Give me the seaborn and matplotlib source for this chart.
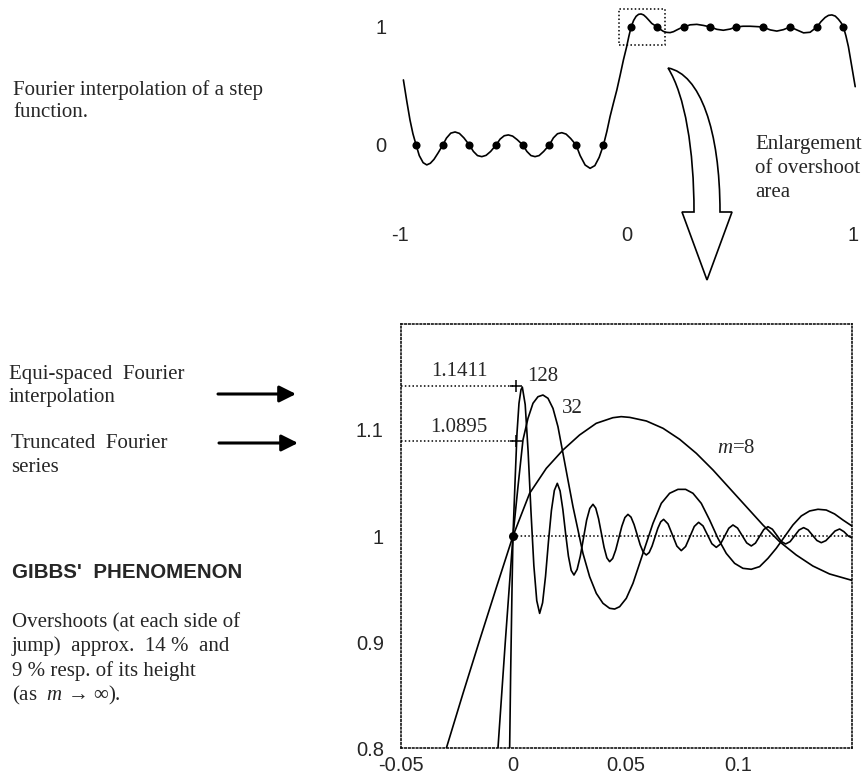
import matplotlib
matplotlib.use("Agg")
import matplotlib.pyplot as plt
import seaborn as sns
from matplotlib.path import Path
from matplotlib.patches import PathPatch, Rectangle, FancyArrowPatch
from matplotlib.transforms import Affine2D

W, H = 865, 784

# ---------------- top panel data ----------------
top_x = [-0.985, -0.970, -0.956, -0.943, -0.929, -0.915, -0.898, -0.882, -0.866, -0.850,
         -0.831, -0.811, -0.795, -0.776, -0.757, -0.738, -0.718, -0.694, -0.676, -0.658,
         -0.639, -0.620, -0.600, -0.576, -0.558, -0.540, -0.522, -0.503, -0.483, -0.458,
         -0.440, -0.422, -0.404, -0.386, -0.366, -0.341, -0.323, -0.305, -0.286, -0.267,
         -0.247, -0.223, -0.205, -0.183, -0.161, -0.140, -0.121, -0.102, -0.087, -0.073,
         -0.058, -0.043, -0.028, -0.014, 0.000, 0.010, 0.020, 0.031, 0.042, 0.053,
         0.064, 0.075, 0.086, 0.098, 0.111, 0.123, 0.136, 0.150, 0.163, 0.177,
         0.192, 0.207, 0.222, 0.238, 0.255, 0.280, 0.310, 0.339, 0.369, 0.398,
         0.427, 0.457, 0.483, 0.514, 0.545, 0.574, 0.601, 0.634, 0.663, 0.692,
         0.722, 0.751, 0.781, 0.810, 0.840, 0.858, 0.876, 0.891, 0.906, 0.921,
         0.935, 0.947, 0.957, 0.968, 0.979, 0.994, 1.009]
top_y = [0.551, 0.370, 0.212, 0.095, 0.000, -0.090, -0.150, -0.169, -0.155, -0.122,
         -0.065, 0.000, 0.058, 0.100, 0.110, 0.098, 0.060, 0.000, -0.055, -0.090,
         -0.099, -0.088, -0.055, 0.000, 0.050, 0.078, 0.085, 0.075, 0.045, 0.000,
         -0.055, -0.090, -0.099, -0.090, -0.055, 0.000, 0.060, 0.095, 0.104, 0.092,
         0.055, 0.000, -0.090, -0.170, -0.198, -0.175, -0.105, 0.000, 0.115, 0.240,
         0.355, 0.466, 0.595, 0.720, 0.830, 0.920, 1.000, 1.055, 1.090, 1.107,
         1.110, 1.102, 1.083, 1.058, 1.030, 1.015, 1.000, 0.978, 0.962, 0.954,
         0.952, 0.960, 0.975, 0.990, 1.000, 1.018, 1.022, 1.013, 1.000, 0.980,
         0.972, 0.982, 1.000, 1.006, 1.006, 1.003, 1.000, 0.975, 0.965, 0.977,
         1.000, 0.975, 0.950, 0.955, 1.000, 1.045, 1.080, 1.098, 1.102, 1.092,
         1.065, 1.035, 1.000, 0.925, 0.833, 0.664, 0.494]
nodes_x = [-0.929, -0.811, -0.694, -0.576, -0.458, -0.341, -0.223, -0.102,
           0.020, 0.136, 0.255, 0.369, 0.483, 0.601, 0.722, 0.840, 0.957]
nodes_y = [0, 0, 0, 0, 0, 0, 0, 0, 1, 1, 1, 1, 1, 1, 1, 1, 1]
top_xticks = [-1, 0, 1]
top_xticklabels = ["-1", "0", "1"]
top_yticks = [0, 1]
top_yticklabels = ["0", "1"]

# ---------------- bottom panel data ----------------
m8_x = [-0.0296, -0.0222, -0.0148, -0.0074, 0.0, 0.0074, 0.0148, 0.0222, 0.0296, 0.0370,
        0.0444, 0.0481, 0.0519, 0.0593, 0.0667, 0.0741, 0.0815, 0.0889, 0.0963, 0.1037,
        0.1111, 0.1185, 0.1259, 0.1333, 0.1407, 0.1511]
m8_y = [0.800, 0.8516, 0.9019, 0.9513, 1.000, 1.0403, 1.0638, 1.0811, 1.0953, 1.1063,
        1.1116, 1.1126, 1.1119, 1.1085, 1.1016, 1.0912, 1.0780, 1.0623, 1.0450, 1.0277,
        1.0104, 0.9947, 0.9821, 0.9717, 0.9642, 0.9579]

m32_x = [-0.00667, -0.00341, 0.0, 0.00222, 0.00444, 0.00667, 0.00889, 0.01111, 0.01333, 0.01556,
         0.01778, 0.02, 0.02222, 0.02444, 0.02667, 0.02889, 0.03111, 0.03407, 0.03704, 0.04,
         0.04296, 0.04519, 0.04741, 0.05037, 0.05333, 0.0563, 0.05926, 0.06222, 0.06593, 0.06963,
         0.07333, 0.07674, 0.08, 0.0837, 0.08741, 0.09111, 0.09481, 0.09852, 0.10222, 0.10593,
         0.10963, 0.11333, 0.11704, 0.12074, 0.12444, 0.12815, 0.13185, 0.13556, 0.13926, 0.14296,
         0.14667, 0.15111]
m32_y = [0.800, 0.9003, 1.0, 1.0465, 1.0906, 1.1110, 1.1252, 1.1314, 1.1330, 1.1299,
         1.1204, 1.1031, 1.0780, 1.0528, 1.0277, 1.0057, 0.9836, 0.9616, 0.9459, 0.9365,
         0.9318, 0.9311, 0.9333, 0.9412, 0.9553, 0.9742, 0.9931, 1.0119, 1.0308, 1.0403,
         1.0440, 1.0440, 1.0403, 1.0308, 1.0151, 0.9978, 0.9836, 0.9742, 0.9695, 0.9686,
         0.9711, 0.9789, 0.9884, 0.9994, 1.0104, 1.0189, 1.0236, 1.0252, 1.0245, 1.0208,
         1.0151, 1.0088]

m128_x = [-0.00148, -0.00104, -0.00044, 0.0, 0.00089, 0.00178, 0.00267, 0.00356, 0.00415,
          0.00543, 0.00672, 0.00800, 0.00928, 0.01057, 0.01185,
          0.01316, 0.01447, 0.01578, 0.01708, 0.01839, 0.01970,
          0.02094, 0.02217, 0.02341, 0.02464, 0.02588, 0.02711,
          0.02852, 0.02993, 0.03134, 0.03274, 0.03415, 0.03556,
          0.03679, 0.03803, 0.03926, 0.04049, 0.04173, 0.04296,
          0.04432, 0.04568, 0.04704, 0.04839, 0.04975, 0.05111,
          0.05247, 0.05383, 0.05519, 0.05654, 0.05790, 0.05926,
          0.06054, 0.06183, 0.06311, 0.06439, 0.06568, 0.06696,
          0.06892, 0.07089, 0.07285, 0.07481,
          0.07674, 0.07867, 0.08059, 0.08252,
          0.08448, 0.08645, 0.08841, 0.09037,
          0.09222, 0.09408, 0.09593, 0.09778,
          0.09982, 0.10186, 0.10389, 0.10593,
          0.10778, 0.10963, 0.11148, 0.11333,
          0.11530, 0.11726, 0.11923, 0.12119,
          0.12319, 0.12519, 0.12719, 0.12919,
          0.13115, 0.13312, 0.13508, 0.13704,
          0.13908, 0.14112, 0.14315, 0.14519,
          0.14711, 0.14904, 0.15111]
m128_y = [0.800, 0.870, 0.949, 1.000, 1.0497, 1.0969, 1.1252, 1.1380, 1.1405,
          1.1240, 1.0800, 1.0230, 0.9720, 0.9390, 0.9270,
          0.9370, 0.9620, 0.9950, 1.0240, 1.0430, 1.0497,
          1.0425, 1.0250, 1.0020, 0.9810, 0.9675, 0.9632,
          0.9685, 0.9810, 0.9980, 1.0150, 1.0260, 1.0299,
          1.0263, 1.0164, 1.0029, 0.9893, 0.9794, 0.9758,
          0.9788, 0.9869, 0.9981, 1.0092, 1.0174, 1.0204,
          1.0178, 1.0108, 1.0013, 0.9917, 0.9847, 0.9821,
          0.9844, 0.9905, 0.9989, 1.0073, 1.0134, 1.0157,
          1.0114, 1.0010, 0.9905, 0.9862,
          0.9901, 0.9995, 1.0090, 1.0129,
          1.0095, 1.0011, 0.9927, 0.9893,
          0.9924, 0.9998, 1.0073, 1.0104,
          1.0075, 1.0005, 0.9935, 0.9906,
          0.9933, 0.9997, 1.0061, 1.0088,
          1.0064, 1.0007, 0.9949, 0.9925,
          0.9947, 1.0002, 1.0057, 1.0079,
          1.0058, 1.0008, 0.9958, 0.9937,
          0.9956, 1.0001, 1.0047, 1.0066,
          1.0041, 1.0000, 0.9978]

overshoot_levels = [1.1411, 1.0895]
overshoot_labels = ["1.1411", "1.0895"]
overshoot_x = [0.0012, 0.0012]
node_point_x = [0.0]
node_point_y = [1.0]
bot_xticks = [-0.05, 0.0, 0.05, 0.1]
bot_xticklabels = ["-0.05", "0", "0.05", "0.1"]
bot_yticks = [0.8, 0.9, 1.0, 1.1]
bot_yticklabels = ["0.8", "0.9", "1", "1.1"]

# ---------------- style ----------------
sns.set_style("white")
plt.rcParams['font.family'] = ['Liberation Sans', 'DejaVu Sans']
plt.rcParams['mathtext.fontset'] = 'custom'
plt.rcParams['mathtext.rm'] = 'Liberation Serif'
plt.rcParams['mathtext.it'] = 'Liberation Serif:italic'
SERIF = ['Liberation Serif', 'DejaVu Serif']
FS_SERIF = 15
FS_TICK = 14.5
LW = 1.2
DOT = (0, (1, 1.5))

fig = plt.figure(figsize=(W / 100, H / 100), dpi=100)
px = Affine2D().scale(1 / W, -1 / H).translate(0, 1) + fig.transFigure

# ---------------- top panel ----------------
ax1 = fig.add_axes([388 / W, 1 - 180 / H, 474 / W, 177 / H])
ax1.set_xlim(-1.053, 1.039)
ax1.set_ylim(-0.297, 1.203)
sns.lineplot(x=top_x, y=top_y, ax=ax1, color='black', lw=LW, sort=False, estimator=None)
sns.scatterplot(x=nodes_x, y=nodes_y, ax=ax1, color='black', s=34, linewidth=0, zorder=3)
ax1.add_patch(Rectangle((-0.033, 0.847), 0.203, 0.306, fill=False, ec='black',
                        lw=1.1, ls=DOT))
sns.despine(ax=ax1, left=True, bottom=True)
ax1.set_xticks(top_xticks)
ax1.set_xticklabels(top_xticklabels)
ax1.set_yticks(top_yticks)
ax1.set_yticklabels(top_yticklabels)
ax1.tick_params(axis='x', length=0, pad=33, labelsize=FS_TICK)
ax1.tick_params(axis='y', length=0, pad=1, labelsize=FS_TICK)
ax1.set_xlabel("")
ax1.set_ylabel("")

# ---------------- bottom panel ----------------
ax2 = fig.add_axes([400.5 / W, 1 - 748 / H, 451.5 / W, 424 / H])
ax2.set_xlim(-0.05, 0.1507)
ax2.set_ylim(0.8, 1.2)
for s in ax2.spines.values():
    s.set_linestyle(DOT)
    s.set_linewidth(1.1)
    s.set_color('black')
for cx, cy in [(m8_x, m8_y), (m32_x, m32_y), (m128_x, m128_y)]:
    sns.lineplot(x=cx, y=cy, ax=ax2, color='black', lw=LW, sort=False, estimator=None)
ax2.hlines(overshoot_levels, -0.05, overshoot_x, colors='black', lw=1.1, linestyles=DOT)
ax2.hlines([1.0], 0.0, 0.1507, colors='black', lw=1.1, linestyles=DOT)
sns.scatterplot(x=overshoot_x, y=overshoot_levels, ax=ax2, marker='+', color='black',
                s=70, linewidth=1.1, zorder=3)
sns.scatterplot(x=node_point_x, y=node_point_y, ax=ax2, color='black', s=42, linewidth=0, zorder=4)
ax2.set_xticks(bot_xticks)
ax2.set_xticklabels(bot_xticklabels)
ax2.set_yticks(bot_yticks)
ax2.set_yticklabels(bot_yticklabels)
ax2.tick_params(axis='x', length=0, pad=6, labelsize=FS_TICK)
ax2.tick_params(axis='y', length=0, pad=12, labelsize=FS_TICK)
ax2.set_xlabel("")
ax2.set_ylabel("")

for lab, yy in zip(overshoot_labels, [1.1509, 1.0981]):
    ax2.text(-0.0239, yy, lab, family=SERIF, fontsize=FS_SERIF, ha='center', va='baseline')
ax2.text(0.0131, 1.1465, "128", family=SERIF, fontsize=FS_SERIF, ha='center', va='baseline')
ax2.text(0.0265, 1.1163, "32", family=SERIF, fontsize=FS_SERIF, ha='center', va='baseline')
ax2.text(0.0991, 1.078, "$m$=8", family=SERIF, fontsize=FS_SERIF, ha='center', va='baseline')

# ---------------- hollow curved arrow (enlargement) ----------------
verts = [(668, 68), (700, 74), (720, 130), (720, 212), (732, 212), (707, 280),
         (682, 212), (694, 212), (694, 150), (685, 95), (668, 68), (668, 68)]
codes = [Path.MOVETO, Path.CURVE4, Path.CURVE4, Path.CURVE4, Path.LINETO, Path.LINETO,
         Path.LINETO, Path.LINETO, Path.CURVE4, Path.CURVE4, Path.CURVE4, Path.CLOSEPOLY]
fig.add_artist(PathPatch(Path(verts, codes), transform=px, fc='white', ec='black', lw=1.2))

# ---------------- left arrows ----------------
for (x0, x1, yy) in [(218, 296, 394), (219, 298, 443)]:
    fig.add_artist(FancyArrowPatch((x0, yy), (x1, yy), transform=px,
                                   arrowstyle='-|>,head_length=0.5,head_width=0.25',
                                   mutation_scale=20, lw=2.2, color='black',
                                   shrinkA=0, shrinkB=0))

# ---------------- text blocks ----------------
def ftext(x, y, s, **kw):
    fig.text(x, y, s, transform=px, va='baseline', ha='left', **kw)

serif_lines = [
    (13, 95, "Fourier interpolation of a step"),
    (13, 117, "function."),
    (755, 149, "Enlargement"),
    (755, 173, "of overshoot"),
    (755, 197, "area"),
    (9, 379, "Equi-spaced  Fourier"),
    (9, 402, "interpolation"),
    (11, 448, "Truncated  Fourier"),
    (11, 472, "series"),
    (12, 627, "Overshoots (at each side of"),
    (12, 651, "jump)  approx.  14 %  and"),
    (12, 676, "9 % resp. of its height"),
    (12, 700, "(as  $m$ \u2192 \u221e)."),
]
for x, y, s in serif_lines:
    ftext(x, y, s, family=SERIF, fontsize=FS_SERIF)
ftext(12, 578, "GIBBS'  PHENOMENON", family=['Liberation Sans', 'DejaVu Sans'],
      fontsize=14.8, fontweight='bold')

fig.savefig("out.png", dpi=100)
